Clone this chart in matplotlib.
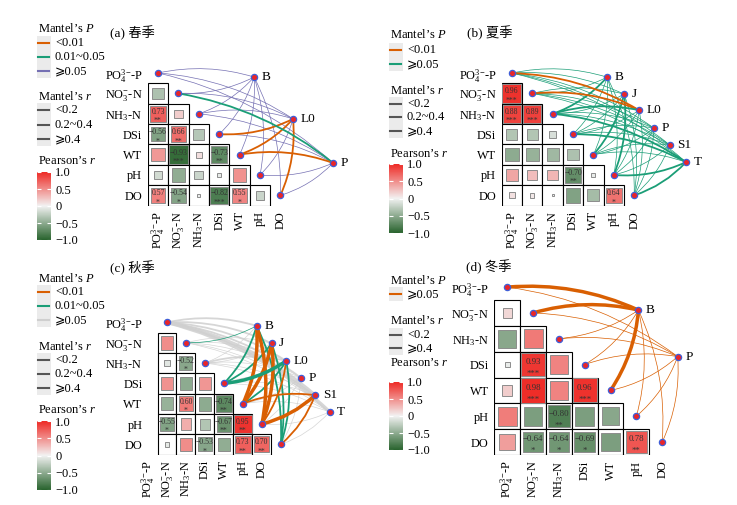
import numpy as np
import matplotlib.pyplot as plt
from matplotlib.colors import LinearSegmentedColormap, Normalize
from matplotlib.patches import Rectangle, FancyArrowPatch
from matplotlib.lines import Line2D
import matplotlib.cm as cm

plt.rcParams['font.family'] = ['Liberation Serif', 'Noto Sans CJK SC', 'DejaVu Sans']
plt.rcParams['mathtext.fontset'] = 'custom'
plt.rcParams['mathtext.rm'] = 'Liberation Serif'
plt.rcParams['mathtext.it'] = 'Liberation Serif:italic'

W, H = 737, 505

env = ['PO$_4^{3{-}}$-P', 'NO$_3^{-}$-N', 'NH$_3$-N', 'DSi', 'WT', 'pH', 'DO']

# Pearson's r, lower triangle (rows NO3-N .. DO, cols PO4-P .. pH)
a_r = [[-0.34],
       [0.73, 0.18],
       [-0.56, 0.66, -0.30],
       [0.45, -0.93, 0.10, -0.73],
       [-0.16, -0.48, -0.20, -0.05, 0.48],
       [0.57, -0.54, -0.03, -0.82, 0.55, -0.20]]
a_sig = [[''],
         ['**', ''],
         ['*', '**', ''],
         ['', '***', '', '**'],
         ['', '', '', '', ''],
         ['*', '*', '', '***', '*', '']]

b_r = [[0.96],
       [0.88, 0.89],
       [-0.32, -0.32, -0.13],
       [-0.50, -0.45, -0.40, -0.34],
       [0.38, 0.26, 0.30, -0.70, -0.04],
       [0.09, 0.05, 0.01, -0.56, -0.38, 0.64]]
b_sig = [['***'],
         ['***', '***'],
         ['', '', ''],
         ['', '', '', ''],
         ['', '', '', '**', ''],
         ['', '', '', '', '', '*']]

c_r = [[0.50],
       [-0.08, -0.52],
       [0.48, -0.50, 0.46],
       [-0.45, 0.60, -0.50, -0.74],
       [-0.55, 0.34, -0.32, -0.67, 0.95],
       [-0.06, 0.50, -0.53, -0.48, 0.73, 0.70]]
c_sig = [[''],
         ['', '*'],
         ['', '', ''],
         ['', '*', '', '**'],
         ['*', '', '', '**', '**'],
         ['', '', '*', '', '**', '**']]

d_r = [[0.14],
       [-0.52, 0.60],
       [-0.04, 0.93, 0.55],
       [0.18, 0.98, 0.55, 0.96],
       [0.58, -0.58, -0.80, -0.58, -0.52],
       [0.42, -0.64, -0.64, -0.69, -0.58, 0.78]]
d_sig = [[''],
         ['', ''],
         ['', '***', ''],
         ['', '***', '', '***'],
         ['', '', '**', '', ''],
         ['', '*', '*', '*', '', '**']]

# Mantel links: P class and r class per species and env variable
a_species = ['B', 'L0', 'P']
a_pcls = [[2, 2, 2, 2, 2, 2, 2],
          [2, 2, 2, 0, 0, 2, 0],
          [2, 1, 2, 2, 0, 2, 2]]
a_rcls = [[0, 0, 0, 0, 0, 0, 0],
          [0, 0, 0, 1, 1, 0, 1],
          [0, 1, 0, 0, 1, 0, 0]]

b_species = ['B', 'J', 'L0', 'P', 'S1', 'T']
b_pcls = [[1, 1, 1, 1, 1, 1, 1],
          [1, 1, 1, 1, 1, 1, 1],
          [0, 0, 1, 1, 1, 1, 1],
          [1, 1, 1, 1, 1, 1, 1],
          [1, 1, 1, 1, 1, 1, 1],
          [1, 1, 1, 1, 1, 1, 1]]
b_rcls = [[0, 0, 1, 0, 0, 0, 0],
          [0, 0, 0, 0, 1, 1, 0],
          [1, 1, 1, 0, 0, 0, 0],
          [0, 0, 0, 0, 0, 0, 0],
          [0, 0, 0, 0, 0, 0, 0],
          [0, 0, 1, 1, 0, 1, 1]]

c_species = ['B', 'J', 'L0', 'P', 'S1', 'T']
c_pcls = [[2, 1, 2, 1, 0, 0, 1],
          [2, 2, 2, 1, 0, 0, 1],
          [2, 2, 2, 1, 1, 0, 1],
          [2, 2, 2, 2, 2, 2, 2],
          [2, 2, 2, 2, 0, 0, 0],
          [2, 2, 2, 2, 2, 2, 2]]
c_rcls = [[1, 0, 0, 1, 2, 2, 1],
          [1, 0, 0, 1, 2, 2, 1],
          [1, 0, 1, 2, 1, 1, 1],
          [1, 0, 0, 0, 0, 0, 0],
          [2, 0, 0, 0, 1, 2, 1],
          [2, 0, 0, 0, 0, 0, 0]]

d_species = ['B', 'P']
d_pcls = [[0, 0, 0, 0, 0, 0, 0],
          [0, 0, 0, 0, 0, 0, 0]]
d_rcls = [[1, 1, 0, 0, 1, 0, 0],
          [0, 0, 0, 0, 0, 0, 0]]

ORANGE, GREEN, PURPLE, GREY = '#D95F02', '#1B9E77', '#7570B3', '#CFCFCF'
GE = '\u2a7e'
wid = {'<0.2': 0.5, '0.2~0.4': 1.3, GE + '0.4': 2.5}

cmap = LinearSegmentedColormap.from_list('gr', ['#28632D', '#F2F2F2', '#EE2A25'])
norm = Normalize(-1, 1)

fig = plt.figure(figsize=(W / 100, H / 100), dpi=100)
lg = fig.add_axes([0, 0, 1, 1])
lg.set_xlim(0, W)
lg.set_ylim(H, 0)
lg.axis('off')

FS = 9


def panel(c0x, r0y, s, rv, sig, species, sp_pos, pcls, rcls, pcol, rlev, xshift=0, cfs=5.6):
    ax = fig.add_axes([(c0x - 0.5 * s) / W, 1 - (r0y + 6.5 * s) / H, 7 * s / W, 7 * s / H])
    ax.set_xlim(-0.5, 6.5)
    ax.set_ylim(6.5, -0.5)
    ax.patch.set_visible(False)
    for sp in ax.spines.values():
        sp.set_visible(False)
    for i, row in enumerate(rv, start=1):
        for j, r in enumerate(row):
            ax.add_patch(Rectangle((j - 0.5, i - 0.5), 1, 1, fc='white', ec='black', lw=0.8, zorder=1))
            side = 0.95 * np.sqrt(abs(r))
            ax.add_patch(Rectangle((j - side / 2, i - side / 2), side, side,
                                   fc=cmap(norm(r)), ec='#8C8C8C', lw=0.7, zorder=2))
            if sig[i - 1][j]:
                ax.text(j, i - 0.1, f'{r:.2f}'.replace('-', '\u2212'), ha='center', va='center',
                        fontsize=cfs, color='#333333', zorder=3)
                ax.text(j, i + 0.36, sig[i - 1][j], ha='center', va='center',
                        fontsize=cfs, color='#333333', zorder=3)
    ax.set_yticks(range(7))
    ax.set_yticklabels(env)
    ax.set_xticks(np.arange(7) + xshift)
    ax.set_xticklabels(env, rotation=90)
    ax.tick_params(length=0, labelsize=8.8, pad=4)

    edges = []
    for k in range(len(species)):
        sx, sy = sp_pos[k]
        for e in range(7):
            edges.append((pcol[pcls[k][e]] != GREY, wid[rlev[rcls[k][e]]], e, sx, sy, pcol[pcls[k][e]]))
    edges.sort(key=lambda t: (t[0], t[1]))
    for colored, lw, e, sx, sy, col in edges:
        ang = np.degrees(np.arctan2(e - sy, sx - e))
        rad = 0.13 if ang > 8 else -0.13
        ax.add_patch(FancyArrowPatch((e, e), (sx, sy), arrowstyle='-', connectionstyle=f'arc3,rad={rad}',
                                     lw=lw, color=col, alpha=1 if colored else 0.85,
                                     shrinkA=0, shrinkB=0, zorder=2.5, clip_on=False))
    xs = list(range(7)) + [p[0] for p in sp_pos]
    ys = list(range(7)) + [p[1] for p in sp_pos]
    ax.plot(xs, ys, 'o', ms=4.5, mfc='#E8262A', mec='#3F5FD8', mew=0.9, zorder=4, clip_on=False)
    for k, name in enumerate(species):
        ax.annotate(name, sp_pos[k], xytext=(5.5, 0), textcoords='offset points',
                    ha='left', va='center', fontsize=9.5, annotation_clip=False)
    return ax


def legend(kx, tx, plev, pcol, pt, pys, rlev, rt, rys, ct, btop, bbot):
    lg.text(kx + 1, pt, 'Mantel\u2019s $\\it{P}$', ha='left', va='center', fontsize=FS)
    lg.add_patch(Rectangle((kx, pys[0] - 7), 14, pys[-1] - pys[0] + 14, fc='#EBEBEB', ec='none'))
    for lab, col, y in zip(plev, pcol, pys):
        lg.add_line(Line2D([kx + 1.5, kx + 12.5], [y, y], color=col, lw=1.5))
        lg.text(tx, y, lab, ha='left', va='center', fontsize=FS)
    lg.text(kx + 1, rt, 'Mantel\u2019s $\\it{r}$', ha='left', va='center', fontsize=FS)
    lg.add_patch(Rectangle((kx, rys[0] - 7), 14, rys[-1] - rys[0] + 14, fc='#EBEBEB', ec='none'))
    for lab, y in zip(rlev, rys):
        lg.add_line(Line2D([kx + 1.5, kx + 12.5], [y, y], color='#555555', lw=1.5))
        lg.text(tx, y, lab, ha='left', va='center', fontsize=FS)
    lg.text(kx + 1, ct, 'Pearson\u2019s $\\it{r}$', ha='left', va='center', fontsize=FS)
    cax = fig.add_axes([kx / W, 1 - bbot / H, 14 / W, (bbot - btop) / H])
    cb = fig.colorbar(cm.ScalarMappable(norm=norm, cmap=cmap), cax=cax)
    cb.outline.set_visible(False)
    cb.set_ticks([-1, -0.5, 0, 0.5, 1])
    cb.set_ticklabels(['\u22121.0', '\u22120.5', '0', '0.5', '1.0'])
    cax.tick_params(direction='in', length=3, width=0.8, color='white', left=True, right=True,
                    labelcolor='black', labelsize=FS, pad=3)


plev3 = ['<0.01', '0.01~0.05', GE + '0.05']
rlev3 = ['<0.2', '0.2~0.4', GE + '0.4']

# (a)
panel(158, 73, 20.4, a_r, a_sig, a_species, [(4.71, 0.2), (6.62, 2.25), (8.58, 4.41)],
      a_pcls, a_rcls, [ORANGE, GREEN, PURPLE], rlev3)
legend(37, 55, plev3, [ORANGE, GREEN, PURPLE], 29, [43, 57, 71], rlev3, 97, [110, 125, 139],
       161, 172, 240)
lg.text(110, 33, '(a) 春季', ha='left', va='center', fontsize=9.5)

# (b)
panel(511.9, 73.1, 20.38, b_r, b_sig, b_species,
      [(4.67, 0.2), (5.5, 1.03), (6.24, 1.82), (6.97, 2.7), (7.75, 3.53), (8.54, 4.37)],
      b_pcls, b_rcls, [ORANGE, GREEN], rlev3)
legend(389, 407, ['<0.01', GE + '0.05'], [ORANGE, GREEN], 35, [50, 64], rlev3, 90, [104, 117, 131],
       154, 164, 233)
lg.text(467, 33, '(b) 夏季', ha='left', va='center', fontsize=9.5)

# (c)
panel(158.2, 322.4, 20.33, c_r, c_sig, c_species,
      [(4.72, 0.17), (5.51, 1.03), (6.28, 1.89), (7.05, 2.72), (7.8, 3.58), (8.57, 4.4)],
      c_pcls, c_rcls, [ORANGE, GREEN, GREY], rlev3, xshift=-1)
legend(37, 55, plev3, [ORANGE, GREEN, GREY], 278, [292, 306, 320], rlev3, 347, [360, 374, 388],
       410, 421, 490)
lg.text(110, 268, '(c) 秋季', ha='left', va='center', fontsize=9.5)

# (d)
panel(507.2, 287.1, 25.83, d_r, d_sig, d_species, [(5.08, 0.89), (6.6, 2.69)],
      d_pcls, d_rcls, [ORANGE], ['<0.2', GE + '0.4'], cfs=6.3)
legend(389, 407, [GE + '0.05'], [ORANGE], 280, [294], ['<0.2', GE + '0.4'], 320, [335, 348],
       363, 382, 450)
lg.text(466, 267, '(d) 冬季', ha='left', va='center', fontsize=9.5)

fig.savefig('out.png', dpi=100)
